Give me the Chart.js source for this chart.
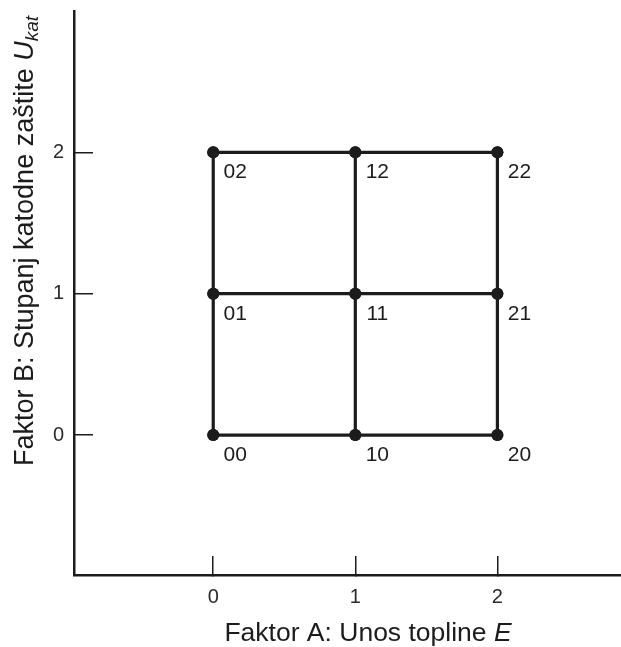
<!DOCTYPE html>
<html>
<head>
<meta charset="utf-8">
<script src="https://cdn.jsdelivr.net/npm/chart.js@4/dist/chart.umd.min.js"></script>
<style>
  html, body { margin: 0; padding: 0; background: #fff; }
  #wrap { width: 621px; height: 647px; position: relative; }
</style>
</head>
<body>
<div id="wrap"><canvas id="c"></canvas></div>
<script>
// ---- data ----
const factorALevels = [0, 1, 2];        // Faktor A: Unos topline E
const factorBLevels = [0, 1, 2];        // Faktor B: Stupanj katodne zaštite U_kat
const xTickValues = [0, 1, 2];
const yTickValues = [0, 1, 2];
const xTitle = ["Faktor A: Unos topline ", "E"];
const yTitle = ["Faktor B: Stupanj katodne zaštite ", "U", "kat"];

const FONT = "'Liberation Sans', Arial, Helvetica, sans-serif";
const INK = '#1c1c1c';

// Lines of the 3x3 factorial grid
const datasets = [];
factorBLevels.forEach(b => {
  datasets.push({ data: factorALevels.map(a => ({ x: a, y: b })) });
});
factorALevels.forEach(a => {
  datasets.push({ data: factorBLevels.map(b => ({ x: a, y: b })) });
});
datasets.forEach(d => Object.assign(d, {
  showLine: true, borderColor: INK, backgroundColor: INK, borderWidth: 3.2,
  pointRadius: 6, pointBackgroundColor: INK, pointBorderWidth: 0, pointHoverRadius: 6
}));

const pointLabelPlugin = {
  id: 'pointLabels',
  afterDatasetsDraw(chart) {
    const ctx = chart.ctx;
    const xs = chart.scales.x, ys = chart.scales.y;
    ctx.save();
    ctx.fillStyle = INK;
    ctx.font = '21px ' + FONT;
    ctx.textAlign = 'center';
    ctx.textBaseline = 'middle';
    factorALevels.forEach(a => factorBLevels.forEach(b => {
      ctx.fillText('' + a + b, xs.getPixelForValue(a) + 22, ys.getPixelForValue(b) + 20);
    }));
    ctx.restore();
  }
};

const titlePlugin = {
  id: 'titles',
  afterDraw(chart) {
    const ctx = chart.ctx;
    ctx.save();
    ctx.fillStyle = INK;
    ctx.textBaseline = 'alphabetic';
    ctx.textAlign = 'left';
    // x title
    let fN = '26.5px ' + FONT, fI = 'italic 26.5px ' + FONT;
    ctx.font = fN; const w1 = ctx.measureText(xTitle[0]).width;
    ctx.font = fI; const w2 = ctx.measureText(xTitle[1]).width;
    let x0 = 368 - (w1 + w2) / 2;
    ctx.font = fN; ctx.fillText(xTitle[0], x0, 641);
    ctx.font = fI; ctx.fillText(xTitle[1], x0 + w1, 641);
    // y title (rotated)
    fN = '27px ' + FONT; fI = 'italic 27px ' + FONT;
    const fS = 'italic 19px ' + FONT;
    ctx.font = fN; const v1 = ctx.measureText(yTitle[0]).width;
    ctx.font = fI; const v2 = ctx.measureText(yTitle[1]).width;
    ctx.font = fS; const v3 = ctx.measureText(yTitle[2]).width;
    ctx.translate(33, 241);
    ctx.rotate(-Math.PI / 2);
    let s = -(v1 + v2 + v3) / 2;
    ctx.font = fN; ctx.fillText(yTitle[0], s, 0);
    ctx.font = fI; ctx.fillText(yTitle[1], s + v1, 0);
    ctx.font = fS; ctx.fillText(yTitle[2], s + v1 + v2, 5);
    ctx.restore();
  }
};

function zeroPad(s) { s.paddingTop = 0; s.paddingBottom = 0; s.paddingLeft = 0; s.paddingRight = 0; }

new Chart(document.getElementById('c'), {
  type: 'scatter',
  data: { datasets },
  options: {
    responsive: true,
    maintainAspectRatio: false,
    animation: false,
    layout: { autoPadding: false, padding: { top: 11, right: 0, left: 0, bottom: 0 } },
    plugins: { legend: { display: false }, tooltip: { enabled: false } },
    scales: {
      x: {
        type: 'linear', min: -0.98, max: 2.87,
        afterBuildTicks: s => { s.ticks = xTickValues.map(v => ({ value: v })); },
        afterFit: s => { s.height = 72; zeroPad(s); },
        border: { display: true, color: INK, width: 2.5 },
        grid: { drawOnChartArea: false, drawTicks: true, tickLength: -19, color: INK, lineWidth: 1.5 },
        ticks: { color: '#2a2a2a', padding: 29, font: { size: 20, family: FONT } }
      },
      y: {
        type: 'linear', min: -0.99, max: 3.0,
        afterBuildTicks: s => { s.ticks = yTickValues.map(v => ({ value: v })); },
        afterFit: s => { s.width = 74; zeroPad(s); },
        border: { display: true, color: INK, width: 2.5 },
        grid: { drawOnChartArea: false, drawTicks: true, tickLength: -19, color: INK, lineWidth: 1.5 },
        ticks: { color: '#2a2a2a', padding: 29, font: { size: 20, family: FONT } }
      }
    }
  },
  plugins: [pointLabelPlugin, titlePlugin]
});
</script>
</body>
</html>
